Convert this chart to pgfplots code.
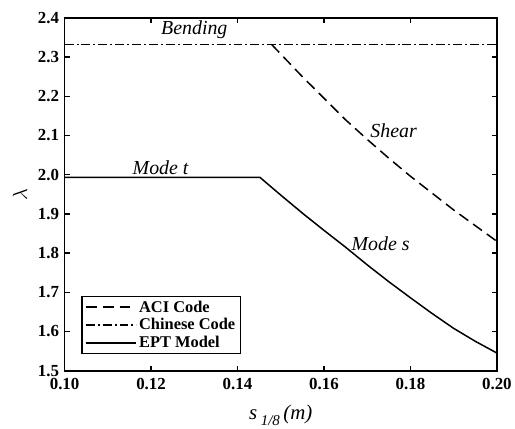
\documentclass[border=0pt]{standalone}
\usepackage{fontspec}
\setmainfont{Liberation Serif}
\usepackage{pgfplots}
\pgfplotsset{compat=1.18}
\begin{document}
\begin{tikzpicture}
\begin{axis}[
  scale only axis,
  width=435pt, height=355pt,
  xmin=0.10, xmax=0.20, ymin=1.5, ymax=2.4,
  xtick={0.10,0.12,0.14,0.16,0.18,0.20},
  ytick={1.5,1.6,1.7,1.8,1.9,2.0,2.1,2.2,2.3,2.4},
  minor tick num=0,
  tick align=inside,
  major tick length=5pt,
  every tick/.style={black, line width=1.3pt},
  axis line style={line width=1.8pt},
  /pgf/number format/assume math mode=true,
  xticklabel style={/pgf/number format/.cd, fixed, fixed zerofill, precision=2},
  yticklabel style={/pgf/number format/.cd, fixed, fixed zerofill, precision=1},
  tick label style={font=\fontsize{17}{17}\selectfont\bfseries},
  xticklabel shift=4pt,
  yticklabel shift=2pt,
  xlabel={\fontsize{21}{21}\selectfont\textit{s}\,\raisebox{-6pt}{\fontsize{15}{15}\selectfont\textit{1/8}}\,\textit{(m)}},
  xlabel style={at={(axis description cs:0.5,-0.138)}, anchor=base},
  ylabel={\fontsize{21}{21}\selectfont$\lambda$},
  ylabel style={at={(axis description cs:-0.1035,0.5)}, anchor=center},
  legend cell align=left,
  legend style={at={(0.039,0.048)}, anchor=south west, draw=black, line width=1.1pt,
    font=\fontsize{16.5}{16.5}\selectfont\bfseries, inner xsep=3pt, inner ysep=2pt,
    row sep=1pt},
  legend image code/.code={\draw[#1] (0pt,0pt) -- (51pt,0pt);},
  clip=false,
]
\coordinate (bl) at (rel axis cs:0,0);
\addplot[black, line width=1.5pt, dash pattern=on 11pt off 6pt] coordinates {
(0.1479,2.332) (0.155,2.250) (0.160,2.195) (0.165,2.140) (0.170,2.090)
(0.175,2.042) (0.180,1.996) (0.185,1.953) (0.190,1.910) (0.195,1.870) (0.200,1.830)};
\addlegendentry{ACI Code}
\addplot[black, line width=1.5pt, dash pattern=on 9pt off 3pt on 2pt off 3pt] coordinates {
(0.10,2.332) (0.20,2.332)};
\addlegendentry{Chinese Code}
\addplot[black, line width=1.5pt] coordinates {
(0.10,1.993) (0.1452,1.993) (0.150,1.948) (0.155,1.902) (0.160,1.858) (0.165,1.815)
(0.170,1.770) (0.175,1.727) (0.180,1.686) (0.185,1.646) (0.190,1.608) (0.195,1.575) (0.200,1.545)};
\addlegendentry{EPT Model}
\node[font=\fontsize{20}{20}\selectfont\itshape] at (axis cs:0.130,2.370) {Bending};
\node[font=\fontsize{20}{20}\selectfont\itshape] at (axis cs:0.1222,2.019) {Mode t};
\node[font=\fontsize{20}{20}\selectfont\itshape] at (axis cs:0.1761,2.111) {Shear};
\node[font=\fontsize{20}{20}\selectfont\itshape] at (axis cs:0.1731,1.824) {Mode s};
\end{axis}
\path (bl) ++(-65pt,-57pt) rectangle ++(515pt,430pt);
\end{tikzpicture}
\end{document}
